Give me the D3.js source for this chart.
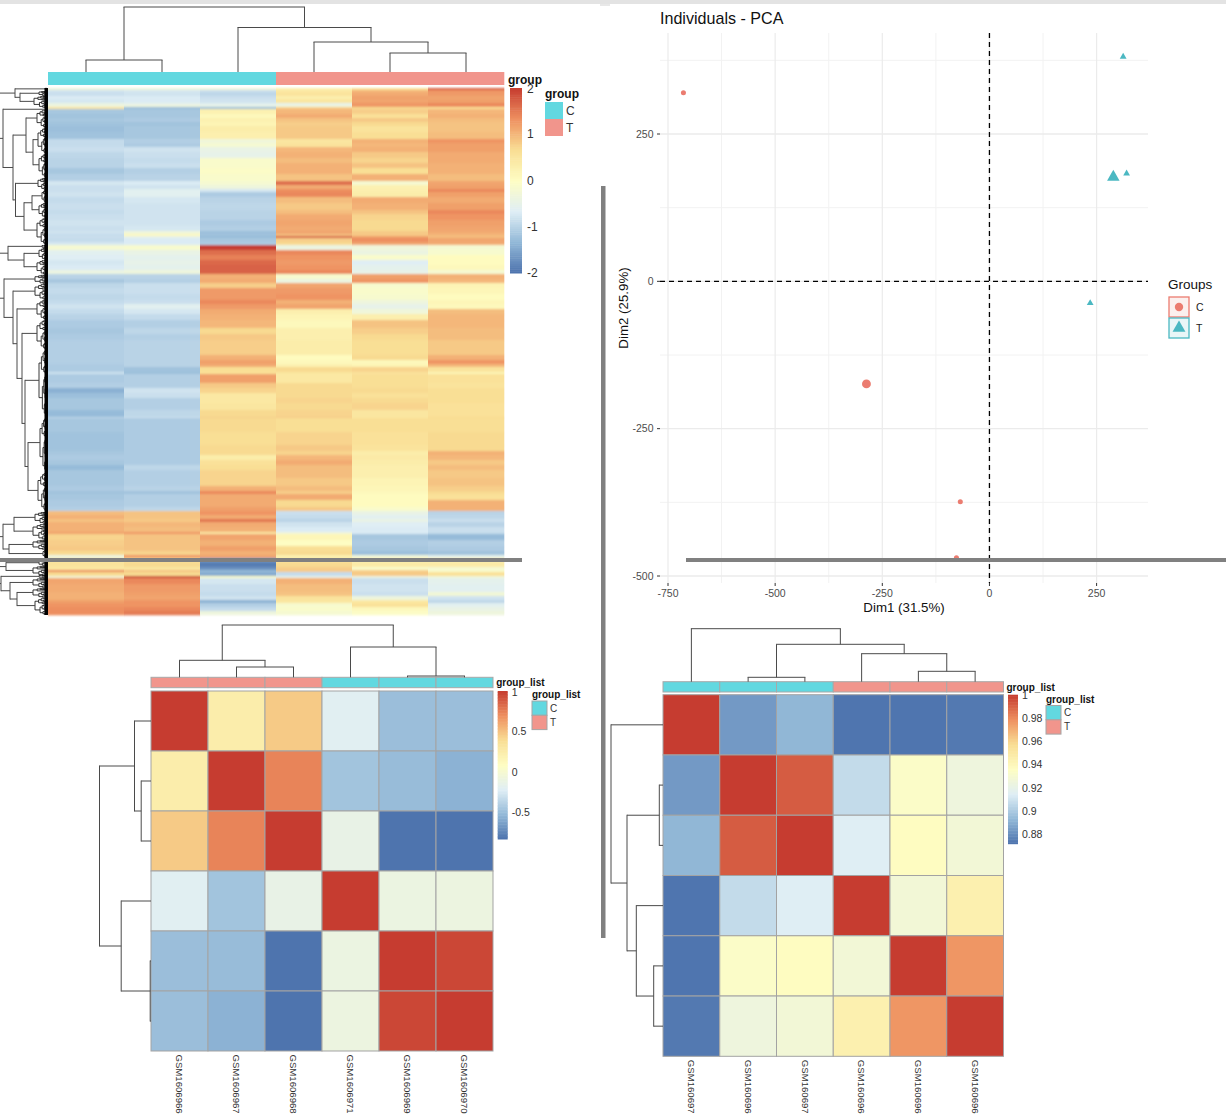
<!DOCTYPE html>
<html><head><meta charset="utf-8">
<script src="https://cdn.jsdelivr.net/npm/d3@7"></script>
<style>html,body{margin:0;padding:0;background:#fff;overflow:hidden}svg{display:block}text{font-family:"Liberation Sans",Arial,sans-serif}</style>
</head><body><div id="chart"></div>
<script>
// ---------- main expression heatmap: each entry = [genes in band, six samples' z-scores] ----------
const heatTop = [
[2,-.3,-.3,-.3,.3,.6,1.7],[2,-.8,-.75,-.85,.45,1,1.3],[4,-.85,-.8,-.95,.55,1.1,1.25],[3,-.7,-.7,-.85,.3,1.2,1.15],[4,-.75,-.7,-.8,.5,1.15,1.2],[2,-.4,-.5,-.6,-.55,1.3,1.4],[2,-.35,-.35,-.45,-.3,1.25,1.35],[2,.55,-1.3,-1.3,.8,.7,.6]];
const heatBlueA = [
[5,-1.15,-1.15,.25,1,.8,1],[4,-1.2,-1.15,.1,1.1,.6,1.05],[4,-1.15,-1.1,.25,.9,.85,.95],[4,-1.2,-1.2,.2,.8,.7,.9],[6,-1.25,-1.15,.35,.85,.55,.9],[7,-1.2,-1.15,.3,.85,.65,.95],[4,-.9,-1.05,-.3,.5,1.05,1.3],[4,-.9,-1.1,-.2,.55,1,1.2],[5,-.85,-.8,-.45,1,1.05,1.2],[6,-.95,-.85,-.5,1.05,.85,1.1],[5,-1,-.9,-.1,.95,.75,1.1],[5,-1,-.85,-.1,1.05,.9,1.05],[6,-1.15,-1.05,-.05,1.05,.65,1.05],[7,-1.05,-1,-.1,.9,1.05,.95]];
const heatBlueB = [
[4,-.75,-.7,-.2,1.6,-.2,1.15],[4,-.85,-.8,-.35,1.1,.25,1.2],[3,-.85,-.6,-.75,1.35,.3,1.4],[5,-.8,-.6,-1.1,1.4,.35,1.2],[6,-.9,-.75,-1,.95,1.1,1.1],[7,-.85,-.8,-.95,.85,1.05,1.2],[4,-.9,-.8,-1,.95,.9,1.4],[6,-.85,-.8,-1,1.1,.75,1.3],[6,-.8,-.8,-1.1,1.15,.7,1.2],[5,-.85,-.75,-1.05,1.1,.7,1.15],[3,-.8,-.3,-1.25,1.15,.85,1.1],[2,-.9,.1,-1.2,.9,.85,1],[2,-.85,-.5,-1.3,1.75,1.2,.95],[4,-.9,-.7,-1.15,.8,1.35,1.15],[3,-.75,-.7,-1.1,.7,1.15,1.1]];
const heatMid = [
[5,-.2,-.15,2,-.4,-.3,-.2],[5,-.6,-.45,1.6,1.4,-.4,-.15],[5,-.65,-.55,1.45,1.3,-.1,.05],[5,-.75,-.5,1.65,1.25,-.65,.05],[5,-.7,-.55,1.7,1.3,-.55,.1],[4,-.4,-.35,1.7,1.4,-.5,-.2],[5,-1,-1,1.05,-.15,1.2,1.05],[4,-1.15,-1.05,1.1,-.4,1.3,1],[5,-.95,-.85,.8,1.15,-.15,.2],[6,-.9,-.85,1.25,1.25,-.1,.15],[6,-.95,-.9,1.25,1.3,-.15,.05],[4,-.9,-.85,1.4,1.05,-.35,.15],[5,-.8,-.6,1.25,1.15,-.5,.1],[5,-.9,-.75,1.1,.3,-.3,.95],[6,-1,-.9,1.05,.2,.3,1]];
const heatBlueC = [
[8,-1.1,-1.05,1,.1,.9,1],[6,-1.15,-.95,.7,.3,.8,.95],[6,-1.1,-1.05,.85,.3,.7,.95],[15,-1.05,-1,.8,.35,.65,.85],[5,-1.05,-1,1.05,.05,.7,1.05],[4,-1.05,-1,1.2,.1,.1,1.3],[3,-1.1,-1,1.1,.25,.2,1],[5,-1.1,-1.2,.65,.7,.75,.55],[2,-.8,-1.25,.6,.5,.55,.15],[9,-1.1,-1.05,1.2,.45,.65,.6],[5,-1.05,-1.05,.85,.7,.65,.55],[5,-1.4,-.8,.75,.7,.7,.65],[5,-1.25,-.85,.45,.7,.6,.65],[5,-1.15,-1.05,.45,.75,.7,.65],[7,-1.15,-1.05,.5,.7,.75,.6],[7,-1.3,-.95,.7,.75,.5,.6],[1,-.9,-.8,.8,.85,.5,.7]];
const heatBlueD = [
[14,-1.15,-1.1,.7,.65,.65,.65],[13,-1.2,-1.1,.65,.75,.6,.7],[6,-1.2,-1.1,.7,.85,.55,.7],[4,-1.15,-1.1,.7,.75,.35,1.05],[5,-1.1,-1.1,.35,1,.4,1],[5,-1.15,-1.1,.6,1.1,.35,.85],[5,-1.3,-.95,.65,.95,.3,.95],[8,-1.15,-1.05,.75,.95,.3,.85],[8,-1.15,-1.05,.75,.85,.2,.9],[5,-1.1,-1,1.05,.95,.15,.8],[3,-1.2,-1.2,1.4,.8,.1,.7],[6,-1.15,-1.05,1.1,1.1,.05,.6],[7,-1.1,-1.05,1.1,.7,.05,1.05],[4,-1.05,-.95,1.2,.85,-.1,1.05]];
const heatOrangeA = [
[4,.95,.9,1.3,-.85,-.45,-1],[4,1.05,.9,1.1,-.9,-.6,-.95],[3,.9,.85,1.55,-1,-.45,-.85],[5,1.05,1,1.1,-.8,-.65,-1],[5,1.05,.95,1.05,-.7,-.7,-.85],[2,1.2,1.3,.4,-.3,-.7,-.9],[6,.75,.9,1.15,.15,-1.15,-1.3],[6,.8,.9,1.05,0,-1.1,-1.05],[5,.85,.9,1.2,.65,-1.15,-1.1],[4,.7,.75,1.05,.7,-1.25,-1.2],[3,-.4,1.25,1.15,.25,-.3,-.55]];
const heatBottom = [
[4,.5,.6,-1.6,.5,.3,.3],[5,.55,.7,-1.9,.7,.4,.4],[3,.45,.5,-1.7,.8,-.1,-.2],[2,1.4,.9,-1.3,.85,.8,-.1],[4,.7,.7,-1.45,-.9,.85,.6],[2,-.3,1.95,-.05,-.5,-.4,-.3],[6,1.15,1.4,-.75,1.05,-.85,-.55],[8,1.1,1.25,-.85,.95,-.8,-.6],[4,1.05,1.2,-.9,.9,-.85,-.25],[4,1.05,1.15,-.8,.55,-.35,-.8],[3,1.2,1.3,-1.4,.5,.45,-.95],[4,1.3,1.3,-1.05,-.15,.6,-.6],[4,1.35,1.4,-.9,-.1,.1,-.45],[4,1.35,1.5,-.35,-.2,-.05,-.35]];
const heatColumns = ["s1","s2","s3","s4","s5","s6"];
const heatGroups = ["C","C","C","T","T","T"];
const heatTicks = [2,1,0,-1,-2];

// dendrograms: [merge height, childA, childB]; a leaf is the column/row index
const heatColTree = [65,[12,0,1],[44.5,2,[30,3,[19,4,5]]]];
// row forest: tips = [firstRow,lastRow,height]
const rowForest = [
[32,[0,2,2],[27,[3,8,8],[8,20,13]]],
[44,[20.5,22,1],[34,[21,[22,40,10],[14,[40,66,9],[66,90,8]]],[31.5,[90,102,9],[23,[15,[102,115,5],[115,130,8]],[130,157,10]]]]],
[39,[157,160,5],[23,[160,172,8],[172,187,10]]],
[43,[187,196,12],[34,[196,212,12],[30,[212,232,10],[25,[232,262,10],[22,[262,330,8],[19,[330,385,7],[385,424,9]]]]]]],
[44,[33,[424,436,12],[436,452,14]],[38,[452,462,14],[462,470,4]]],
[41,[472,478,8],[478,488,14]],
[46,[487,490,8],[37,[490,500,14],[30,[500,510,14],[510,527,12]]]]
];

// ---------- correlation heatmap 1 ----------
const cor1Labels = ["GSM1606966","GSM1606967","GSM1606968","GSM1606971","GSM1606969","GSM1606970"];
const cor1Groups = ["T","T","T","C","C","C"];
const cor1Row1 = [1,.24,.47,-.2,-.49,-.49];
const cor1Row2 = [.24,1,.74,-.46,-.5,-.55];
const cor1Row3 = [.47,.74,1,-.13,-.82,-.82];
const cor1Row4 = [-.2,-.46,-.13,1,-.1,-.09];
const cor1Row5 = [-.49,-.5,-.82,-.1,1,.96];
const cor1Row6 = [-.49,-.55,-.82,-.09,.96,1];
const cor1Domain = [-.83,1];
const cor1Ticks = [1,.5,0,-.5];
const cor1ColTree = [52.3,[17,0,[10.3,1,2]],[30.3,3,[1.3,4,5]]];
const cor1RowTree = [51.5,[16.5,0,[9.8,1,2]],[29.8,3,[.8,4,5]]];

// ---------- correlation heatmap 2 ----------
const cor2Labels = ["GSM160697","GSM160696","GSM160697","GSM160696","GSM160696","GSM160696"];
const cor2Groups = ["C","C","C","T","T","T"];
const cor2Row1 = [1,.884,.893,.873,.873,.874];
const cor2Row2 = [.884,1,.992,.907,.934,.925];
const cor2Row3 = [.893,.992,1,.915,.937,.928];
const cor2Row4 = [.873,.907,.915,1,.928,.945];
const cor2Row5 = [.873,.934,.937,.928,1,.977];
const cor2Row6 = [.874,.925,.928,.945,.977,1];
const cor2Domain = [.872,1];
const cor2Ticks = [1,.98,.96,.94,.92,.9,.88];
const cor2ColTree = [53,0,[37.4,[4.4,1,2],[28,3,[10.4,4,5]]]];
const cor2RowTree = [52,0,[36,[3.7,1,2],[26.7,3,[9.3,4,5]]]];

// ---------- PCA ----------
const pcaC = [[-714,320,0],[-68,-374,0],[-77,-469,0],[-287,-174,1]];
const pcaT = [[312,381,0],[320,183,0],[235,-37,0],[289,177,1]];
const pcaXTicks = [-750,-500,-250,0,250];
const pcaYTicks = [-500,-250,0,250];
const pcaXMinor = [-625,-375,-125,125];
const pcaYMinor = [-375,-125,125,375];

const palette = ["#4C72AD","#92B8D7","#DFEEF5","#FEFDC3","#F9DE94","#EE9060","#C63C30"];
const groupCol = {C:"#62D8E0",T:"#F1958C"};
const rampOf = ([a,b]) => d3.scaleLinear().domain(palette.map((_,i)=>a+(b-a)*i/(palette.length-1))).range(palette).interpolate(d3.interpolateRgb);

const svg = d3.select("#chart").append("svg").attr("width",1226).attr("height",1116).attr("viewBox","0 0 1226 1116");
const defs = svg.append("defs");
defs.append("filter").attr("id","soft").attr("filterUnits","userSpaceOnUse").attr("x",0).attr("y",0).attr("width",1226).attr("height",1116)
  .append("feGaussianBlur").attr("stdDeviation","0 0.8");
const line = (g,x1,y1,x2,y2,c="#4a4a4a",w=1)=>g.append("line").attr("x1",x1).attr("y1",y1).attr("x2",x2).attr("y2",y2).attr("stroke",c).attr("stroke-width",w);
const txt = (g,x,y,s,o={})=>g.append("text").attr("x",x).attr("y",y).attr("dy",".35em").attr("font-size",o.size||12).attr("font-weight",o.bold?"bold":"normal").attr("fill",o.fill||"#222").attr("text-anchor",o.anchor||"start").text(s);

// column dendrogram (root on top)
function colDendro(g,tree,xp,h){ const rec=n=>{ if(typeof n==="number") return {p:xp(n),h:0};
  const a=rec(n[1]),b=rec(n[2]),y=h(n[0]);
  line(g,a.p,h(a.h),a.p,y);line(g,b.p,h(b.h),b.p,y);line(g,a.p-.5,y,b.p+.5,y);
  return {p:(a.p+b.p)/2,h:n[0]};}; rec(tree);}
function rowDendro(g,tree,yp,h){ const rec=n=>{ if(typeof n==="number") return {p:yp(n),h:0};
  const a=rec(n[1]),b=rec(n[2]),x=h(n[0]);
  line(g,h(a.h),a.p,x,a.p);line(g,h(b.h),b.p,x,b.p);line(g,x,a.p-.5,x,b.p+.5);
  return {p:(a.p+b.p)/2,h:n[0]};}; rec(tree);}

function colorBar(g,x0,x1,y0,y1,dom,ticks,tx,fmtSize){
  const sc=rampOf(dom), yS=d3.scaleLinear().domain(dom).range([y1,y0]);
  d3.range(0,100).forEach(i=>{const v=dom[0]+(dom[1]-dom[0])*(i+.5)/100;
    g.append("rect").attr("x",x0).attr("width",x1-x0).attr("y",yS(dom[0]+(dom[1]-dom[0])*(i+1)/100)).attr("height",(y1-y0)/100+.5).attr("fill",sc(v));});
  ticks.forEach(t=>txt(g,tx,Math.max(yS(t),y0+1),String(t),{size:fmtSize,fill:"#333"}));
}
function legendSw(g,x,y,w,h,title,ty,bord){
  txt(g,x,ty,title,{bold:true,size:bord?10:12,fill:"#111"});
  ["C","T"].forEach((k,i)=>{ g.append("rect").attr("x",x).attr("y",y+i*h).attr("width",w).attr("height",h).attr("fill",groupCol[k]).attr("stroke",bord?"#a5a5a5":"none");
    txt(g,x+w+3,y+i*h+h/2,k,{size:bord?10:12,fill:"#333"});});
}

// ===== main heatmap =====
{ const g=svg.append("g");
  const bands=[].concat(heatTop,heatBlueA,heatBlueB,heatMid,heatBlueC,heatBlueD,heatOrangeA,heatBottom);
  const totals=d3.cumsum(bands,b=>b[0]); const total=totals[totals.length-1];
  const x=d3.scaleBand().domain(d3.range(6)).range([48,504]);
  const y=d3.scaleLinear().domain([0,total]).range([88,615]);
  const col=rampOf([-2,2]);
  const cells=g.append("g").attr("filter","url(#soft)");
  bands.forEach((b,i)=>{const r0=i?totals[i-1]:0,r1=totals[i];
    heatColumns.forEach((_,j)=>cells.append("rect").attr("x",x(j)).attr("width",x.bandwidth()+.3).attr("y",y(r0)).attr("height",y(r1)-y(r0)+.3).attr("fill",col(b[j+1])));});
  heatGroups.forEach((k,j)=>g.append("rect").attr("x",x(j)).attr("y",72).attr("width",x.bandwidth()+.3).attr("height",13).attr("fill",groupCol[k]));
  colDendro(g,heatColTree,j=>x(j)+x.bandwidth()/2,d3.scaleLinear().domain([0,65]).range([72,7]));
  // row dendrogram
  const hx=d3.scaleLinear().domain([0,47]).range([47,0]);
  const isTip=n=>typeof n[1]==="number";
  function tip(r0,r1,h,depth){ const mid=y((r0+r1)/2);
    if(r1-r0<1.6||h<1){ line(g,hx(h),mid,47,mid,"#111",.9); return mid; }
    const f=(depth%2)?.62:.36, m=r0+(r1-r0)*f;
    const a=tip(r0,m,h*.7,depth+1), b=tip(m,r1,h*.58,depth+1);
    line(g,hx(h*.7),a,hx(h),a,"#222",.9);line(g,hx(h*.58),b,hx(h),b,"#222",.9);line(g,hx(h),a,hx(h),b,"#222",.9);
    return (a+b)/2; }
  function rec(n){ if(isTip(n)){ const p=tip(n[0],n[1],n[2],0); return {p,h:n[2]}; }
    const a=rec(n[1]),b=rec(n[2]),xx=hx(n[0]);
    line(g,hx(a.h),a.p,xx,a.p);line(g,hx(b.h),b.p,xx,b.p);line(g,xx,a.p-.5,xx,b.p+.5);
    return {p:(a.p+b.p)/2,h:n[0]}; }
  rowForest.forEach(t=>{const r=rec(t); line(g,0,r.p,hx(r.h),r.p);});
  g.append("rect").attr("x",44.5).attr("y",y(0)).attr("width",3.5).attr("height",y(total)-y(0)).attr("fill","#000");
  colorBar(g,510,522,88,273,[-2,2],heatTicks,527,12);
  txt(g,508,79.5,"group",{bold:true,size:12,fill:"#111"});
  legendSw(g,545,102,18,17,"group",94,false);
}

// ===== correlation heatmaps =====
function corMap(o){ const g=svg.append("g");
  const x=d3.scaleBand().domain(d3.range(6)).range([o.x0,o.x1]);
  const y=d3.scaleBand().domain(d3.range(6)).range([o.y0,o.y1]);
  const col=rampOf(o.dom);
  o.rows.forEach((r,i)=>r.forEach((v,j)=>g.append("rect").attr("x",x(j)).attr("y",y(i)).attr("width",x.bandwidth()).attr("height",y.bandwidth()).attr("fill",col(v)).attr("stroke","#a3a3a3").attr("stroke-width",1)));
  o.groups.forEach((k,j)=>g.append("rect").attr("x",x(j)).attr("y",o.ay0).attr("width",x.bandwidth()).attr("height",o.ay1-o.ay0).attr("fill",groupCol[k]).attr("stroke","#a8a8a8").attr("stroke-width",1));
  colDendro(g,o.colTree,j=>x(j)+x.bandwidth()/2,d3.scaleLinear().domain([0,o.colTree[0]]).range([o.ay0,o.ay0-o.colTree[0]]));
  rowDendro(g,o.rowTree,i=>y(i)+y.bandwidth()/2,d3.scaleLinear().domain([0,o.rowTree[0]]).range([o.x0,o.x0-o.rowTree[0]]));
  o.labels.forEach((s,j)=>{const cx=x(j)+x.bandwidth()/2;
    g.append("text").attr("transform",`translate(${cx},${o.y1+3.5}) rotate(90)`).attr("dy",".35em").attr("font-size",9.6).attr("fill","#333").text(s);});
  colorBar(g,o.barX,o.barX+10,o.y0,o.barY1,o.dom,o.ticks,o.barX+14,10.5);
  txt(g,o.barX-1.5,o.ay0+5.5,"group_list",{bold:true,size:10,fill:"#111"});
  legendSw(g,o.legX,o.legY,15,14.3,"group_list",o.legTY,true);
}
corMap({x0:151,x1:493,y0:691,y1:1051,ay0:677.3,ay1:687.7,rows:[cor1Row1,cor1Row2,cor1Row3,cor1Row4,cor1Row5,cor1Row6],dom:cor1Domain,ticks:cor1Ticks,groups:cor1Groups,labels:cor1Labels,colTree:cor1ColTree,rowTree:cor1RowTree,barX:497.7,barY1:839,legX:532,legY:701,legTY:694.7});
corMap({x0:663,x1:1003.5,y0:694.7,y1:1056.3,ay0:681.7,ay1:692,rows:[cor2Row1,cor2Row2,cor2Row3,cor2Row4,cor2Row5,cor2Row6],dom:cor2Domain,ticks:cor2Ticks,groups:cor2Groups,labels:cor2Labels,colTree:cor2ColTree,rowTree:cor2RowTree,barX:1008,barY1:843.7,legX:1046,legY:705.5,legTY:699});

// ===== PCA =====
{ const g=svg.append("g");
  const x=d3.scaleLinear().domain([-750,250]).range([668,1096.6]);
  const y=d3.scaleLinear().domain([-500,250]).range([576,134]);
  const L=660,R=1148,T=33,B=583;
  pcaXMinor.forEach(v=>line(g,x(v),T,x(v),B,"#f2f2f2",1));
  pcaYMinor.forEach(v=>line(g,L,y(v),R,y(v),"#f2f2f2",1));
  pcaXTicks.forEach(v=>line(g,x(v),T,x(v),B,"#ebebeb",1.2));
  pcaYTicks.forEach(v=>line(g,L,y(v),R,y(v),"#ebebeb",1.4));
  line(g,L,y(0),R,y(0),"#000",1.3).attr("stroke-dasharray","5,4");
  line(g,x(0),T,x(0),B,"#000",1.3).attr("stroke-dasharray","5,4");
  pcaXTicks.forEach(v=>{line(g,x(v),B,x(v),B+3,"#333",1);txt(g,x(v),B+10,String(v),{size:10.5,anchor:"middle",fill:"#4d4d4d"});});
  pcaYTicks.forEach(v=>{line(g,L-3,y(v),L,y(v),"#333",1);txt(g,L-6.5,y(v),String(v),{size:10.5,anchor:"end",fill:"#4d4d4d"});});
  const cs="#EB7C70",ts="#4BB8C2";
  pcaC.forEach(p=>g.append("path").attr("transform",`translate(${x(p[0])},${y(p[1])})`).attr("d",d3.symbol(d3.symbolCircle,p[2]?62:20)()).attr("fill",cs));
  pcaT.forEach(p=>g.append("path").attr("transform",`translate(${x(p[0])},${y(p[1])})`).attr("d",d3.symbol(d3.symbolTriangle,p[2]?68:20)()).attr("fill",ts));
  txt(g,660,18,"Individuals - PCA",{size:16.1,fill:"#111"});
  txt(g,904,607,"Dim1 (31.5%)",{size:13.3,anchor:"middle",fill:"#111"});
  g.append("text").attr("transform","translate(623,308) rotate(-90)").attr("dy",".35em").attr("text-anchor","middle").attr("font-size",13.3).attr("fill","#111").text("Dim2 (25.9%)");
  txt(g,1168,284,"Groups",{size:13.5,fill:"#111"});
  [["C",297,cs,"#fbf0ee"],["T",318,ts,"#e9f6f7"]].forEach(([k,yy,c,f])=>{
    g.append("rect").attr("x",1169).attr("y",yy).attr("width",20).attr("height",20).attr("fill",f).attr("stroke",c).attr("stroke-width",1.3);
    g.append("path").attr("transform",`translate(1179,${yy+10})`).attr("d",d3.symbol(k==="C"?d3.symbolCircle:d3.symbolTriangle,k==="C"?55:72)()).attr("fill",c);
    txt(g,1196,yy+10,k,{size:10.5,fill:"#222"});
  });
}

// ===== grey page chrome and overlay bars =====
{ const g=svg.append("g");
  g.append("rect").attr("x",0).attr("y",0).attr("width",1226).attr("height",4).attr("fill","#e3e3e3");
  g.append("rect").attr("x",600).attr("y",4).attr("width",10).attr("height",2).attr("fill","#e8e8e8");
  g.append("rect").attr("x",0).attr("y",558).attr("width",522).attr("height",4).attr("fill","#808080");
  g.append("rect").attr("x",686).attr("y",558).attr("width",540).attr("height",4).attr("fill","#808080");
  g.append("rect").attr("x",601).attr("y",186).attr("width",4.5).attr("height",752).attr("fill","#808080");
}
</script></body></html>
